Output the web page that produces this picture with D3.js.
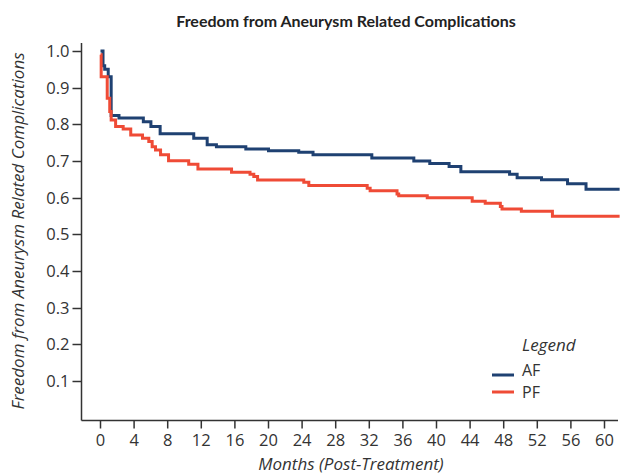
<!DOCTYPE html>
<html>
<head>
<meta charset="utf-8">
<script src="https://cdn.jsdelivr.net/npm/d3@7"></script>
<style>
  body { margin: 0; background: #fff; }
  text { font-family: "Open Sans", sans-serif; fill: #333; }
</style>
</head>
<body>
<div id="chart"></div>
<script>
// step curves: [month, value after step]
const afSteps = [
  [0, 1.0], [0.3, 0.96], [0.5, 0.95], [0.92, 0.93], [1.27, 0.824], [2.2, 0.817],
  [5.1, 0.807], [6.0, 0.794], [7.1, 0.774], [11.1, 0.762], [12.7, 0.744],
  [13.8, 0.739], [17.3, 0.733], [20.0, 0.728], [23.6, 0.724], [25.3, 0.717],
  [32.3, 0.708], [37.3, 0.700], [39.2, 0.693], [41.5, 0.685], [42.9, 0.671],
  [48.7, 0.664], [49.6, 0.654], [52.5, 0.649], [55.6, 0.638], [57.8, 0.623],
  [61.8, 0.623]
];
const pfSteps = [
  [0, 0.99], [0.08, 0.93], [0.8, 0.871], [1.1, 0.835], [1.27, 0.812], [1.8, 0.794],
  [2.7, 0.787], [3.6, 0.771], [5.0, 0.762], [5.75, 0.753], [6.15, 0.739],
  [6.55, 0.730], [7.15, 0.717], [8.1, 0.701], [10.5, 0.691], [11.6, 0.678],
  [15.6, 0.669], [17.8, 0.664], [18.25, 0.658], [18.7, 0.648], [24.2, 0.642],
  [24.8, 0.633], [31.75, 0.626], [32.1, 0.619], [35.3, 0.610], [35.5, 0.605],
  [38.9, 0.600], [44.25, 0.590], [45.8, 0.585], [47.6, 0.576], [47.8, 0.569],
  [50.1, 0.563], [53.8, 0.549], [61.8, 0.549]
];
const seriesNames = ["AF", "PF"];
const seriesColors = ["#1f4172", "#ef4b36"];
const xTicks = d3.range(0, 61, 4);
const yTicks = [0.1, 0.2, 0.3, 0.4, 0.5, 0.6, 0.7, 0.8, 0.9, 1.0];

const width = 620, height = 474;
const svg = d3.select("#chart").append("svg")
  .attr("width", width).attr("height", height);

const x = d3.scaleLinear().domain([0, 60]).range([100.5, 604.5]);
const y = d3.scaleLinear().domain([0.1, 1.0]).range([381, 51]);

const axisLeftX = 81.5, axisBottomY = 420.5;

// title
svg.append("text")
  .attr("x", 346).attr("y", 27)
  .attr("text-anchor", "middle")
  .style("font-family", "Lato, sans-serif")
  .style("font-size", "16px").style("font-weight", "bold")
  .style("fill", "#222")
  .text("Freedom from Aneurysm Related Complications");

// axis lines
svg.append("line")
  .attr("x1", axisLeftX).attr("x2", axisLeftX)
  .attr("y1", 43).attr("y2", axisBottomY)
  .attr("stroke", "#333").attr("stroke-width", 1.5);
svg.append("line")
  .attr("x1", axisLeftX).attr("x2", 618)
  .attr("y1", axisBottomY).attr("y2", axisBottomY)
  .attr("stroke", "#333").attr("stroke-width", 1.5);

// y ticks
const yg = svg.append("g");
yTicks.forEach(t => {
  yg.append("line")
    .attr("x1", axisLeftX - 9).attr("x2", axisLeftX)
    .attr("y1", Math.round(y(t)) + 0.5).attr("y2", Math.round(y(t)) + 0.5)
    .attr("stroke", "#333").attr("stroke-width", 1.5);
  yg.append("text")
    .attr("x", axisLeftX - 12).attr("y", y(t))
    .attr("dy", "0.36em").attr("text-anchor", "end")
    .style("font-size", "16.5px")
    .text(d3.format(".1f")(t));
});

// x ticks
const xg = svg.append("g");
xTicks.forEach(t => {
  xg.append("line")
    .attr("x1", x(t)).attr("x2", x(t))
    .attr("y1", axisBottomY).attr("y2", axisBottomY + 8)
    .attr("stroke", "#333").attr("stroke-width", 1.5);
  xg.append("text")
    .attr("x", x(t)).attr("y", 446)
    .attr("text-anchor", "middle")
    .style("font-size", "16.5px")
    .text(t);
});

// axis titles
svg.append("text")
  .attr("x", 351).attr("y", 470)
  .attr("text-anchor", "middle")
  .style("font-size", "17px").style("font-style", "italic")
  .text("Months (Post-Treatment)");
svg.append("text")
  .attr("transform", "translate(24,231) rotate(-90)")
  .attr("text-anchor", "middle")
  .style("font-size", "17px").style("font-style", "italic")
  .text("Freedom from Aneurysm Related Complications");

// curves
const line = d3.line()
  .x(d => x(d[0]))
  .y(d => y(d[1]))
  .curve(d3.curveStepAfter);

[afSteps, pfSteps].forEach((s, i) => {
  svg.append("path")
    .datum(s)
    .attr("fill", "none")
    .attr("stroke", seriesColors[i])
    .attr("stroke-width", 3)
    .attr("d", line);
});

// legend
const lg = svg.append("g").attr("transform", "translate(492,345)");
lg.append("text")
  .attr("x", 30).attr("y", 6)
  .style("font-size", "17px").style("font-style", "italic")
  .text("Legend");
seriesNames.forEach((n, i) => {
  const yy = 30 + i * 17;
  lg.append("line")
    .attr("x1", 0).attr("x2", 22)
    .attr("y1", yy).attr("y2", yy)
    .attr("stroke", seriesColors[i]).attr("stroke-width", 3);
  lg.append("text")
    .attr("x", 30).attr("y", 31 + i * 22)
    .style("font-size", "16px")
    .text(n);
});
</script>
</body>
</html>
